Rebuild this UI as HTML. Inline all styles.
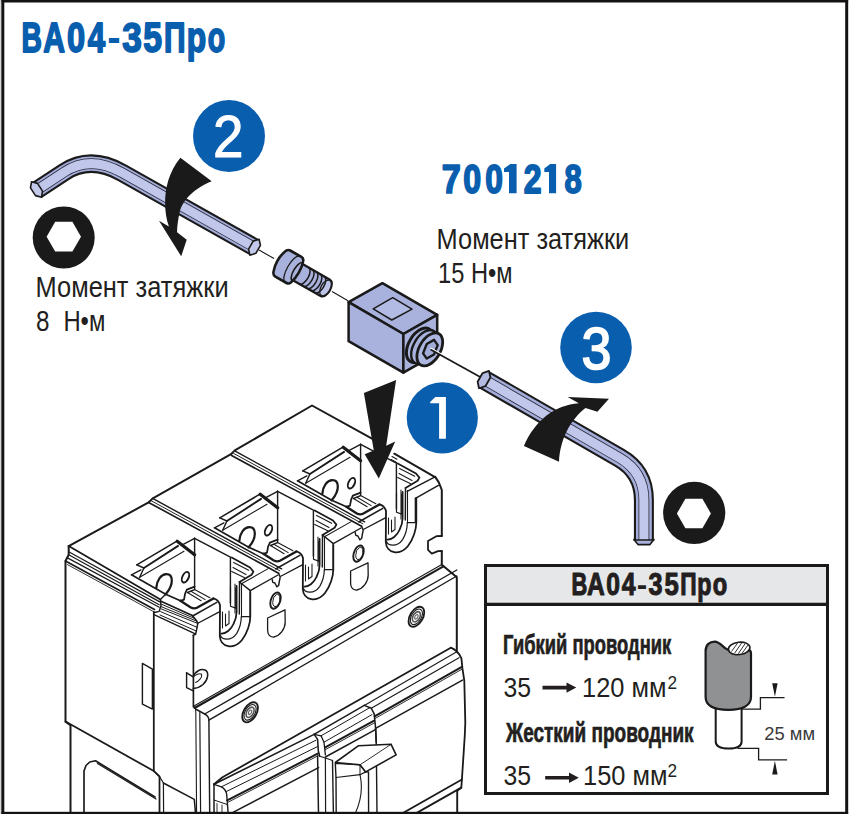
<!DOCTYPE html>
<html lang="ru">
<head>
<meta charset="utf-8">
<title>ВА04-35Про</title>
<style>
html,body{margin:0;padding:0;background:#fff;}
body{width:849px;height:814px;overflow:hidden;font-family:"Liberation Sans",sans-serif;}
svg{display:block;position:absolute;left:0;top:0;}
text{font-family:"Liberation Sans",sans-serif;}
.bl{fill:#0a5eae;font-weight:bold;}
.tx{fill:#231f20;}
.bd{fill:#231f20;font-weight:bold;}
.bs{stroke:#0a5eae;vector-effect:non-scaling-stroke;stroke-linejoin:round;}
.ks{stroke:#231f20;vector-effect:non-scaling-stroke;stroke-linejoin:round;}
</style>
</head>
<body>
<svg width="849" height="814" viewBox="0 0 849 814">
<rect x="0" y="0" width="849" height="814" fill="#fff"/>

<!-- BREAKER -->
<g id="breaker" fill="none" stroke="#1a1a1a" stroke-width="1.3" stroke-linejoin="round" stroke-linecap="round">
<path d="M68.7,546.1 L148.6,502.4 L150.4,500.6 L152.4,498.6 L231.0,454.2 L232.8,452.4 L234.8,450.4 L312.0,405.5 L372.0,438.7" stroke-width="2.0"/>
<path d="M394.3,453.7 L435.5,477.4 L438.8,482.4 L441.8,490.0 L441.8,536.0" stroke-width="2.0"/>
<path d="M441.8,536.0 L436.8,536.1 L428.0,541.1 L428.0,549.8 L431.8,553.6 L438.0,551.1 L441.8,551.0" stroke-width="1.77"/>
<path d="M441.8,551.0 L441.8,564.8 L456.8,577.3 L456.8,652.0" stroke-width="2.0"/>
<path d="M457.2,790.7 L457.2,814.0" stroke-width="1.9"/>
<path d="M68.7,546.1 L68.7,554.8 L65.5,561.0 L65.5,721.6 L70.5,725.3 L70.5,814.0" stroke-width="2.0"/>
<path d="M68.7,546.1 L160.4,599.6" stroke-width="1.77"/>
<path d="M68.7,551.8 L159.8,601.9" stroke-width="1.2"/>
<path d="M68.7,554.8 L159.2,604.8" stroke-width="1.2"/>
<path d="M67.0,557.6 L159.2,607.2" stroke-width="1.2"/>
<path d="M65.5,561.0 L154.5,609.5" stroke-width="1.66"/>
<path d="M67.5,564.6 L152.5,611.0" stroke-width="0.9"/>
<path d="M165.7,594.3 L160.4,599.6 L161.0,605.5 L159.2,611.4 L154.5,612.5" stroke-width="1.43"/>
<path d="M161.0,601.2 L192.3,615.6" stroke-width="1.7"/>
<path d="M161.0,604.0 L194.9,618.6" stroke-width="1.0"/>
<path d="M161.0,606.6 L196.4,621.0" stroke-width="1.0"/>
<path d="M161.0,608.8 L197.4,623.3" stroke-width="1.0"/>
<path d="M160.6,611.6 L197.0,627.3" stroke-width="1.0"/>
<path d="M160.0,615.0 L196.2,631.0" stroke-width="1.0"/>
<path d="M154.0,614.6 L195.3,633.8" stroke-width="1.4"/>
<path d="M192.3,615.6 L196.4,620.4 L197.8,623.3 L196.7,629.2 L195.6,634.4 L193.2,635.3" stroke-width="1.5"/>
<path d="M153.8,611.7 L153.8,771.0" stroke-width="1.77"/>
<path d="M65.5,721.6 L153.8,771.0 L159.5,776.5 L159.5,814.0" stroke-width="1.77"/>
<path d="M142.4,663.4 L152.4,669.2 L152.4,709.1 L142.4,704.1 Z" stroke-width="1.43"/>
<path d="M84.0,814.0 L84.0,771.0 L86.0,765.5 L89.8,762.0 L95.5,760.8 L155.0,797.0" stroke-width="1.66"/>
<path d="M97.5,763.5 L156.0,799.0" stroke-width="1.2"/>
<path d="M163.4,783.0 L194.3,799.4 L195.6,814.0" stroke-width="1.54"/>
<path d="M159.5,776.5 L163.4,783.0 L163.6,814.0" stroke-width="1.2"/>
<path d="M148.6,502.4 L278.6,573.2" stroke-width="1.66"/>
<path d="M150.6,500.4 L279.8,570.8" stroke-width="0.97"/>
<path d="M152.6,498.4 L281.6,568.8" stroke-width="1.43"/>
<path d="M278.6,573.2 L280.2,577.0 L278.6,585.5 L276.8,586.8 L274.9,583.0 L272.8,582.4 L272.2,579.6" stroke-width="1.43"/>
<g transform="matrix(0.871,-0.49,0,1,275.5,600.6)"><ellipse rx="6" ry="7.6" stroke-width="1.9" vector-effect="non-scaling-stroke"/><ellipse cx="1" cy="0.3" rx="4.2" ry="5.8" stroke-width="1.0" vector-effect="non-scaling-stroke"/></g>
<path d="M267.6,618.0 L285.0,609.8 L285.2,622.0 C285.2,629.0 280.0,635.5 274.0,637.0 C269.5,637.5 267.6,634.0 267.6,630.0 Z" stroke-width="1.3"/>
<path d="M231.6,455.4 L361.6,526.2" stroke-width="1.66"/>
<path d="M233.6,453.4 L362.8,523.8" stroke-width="0.97"/>
<path d="M235.6,451.4 L364.6,521.8" stroke-width="1.43"/>
<path d="M361.6,526.2 L363.2,530.0 L361.6,538.5 L359.8,539.8 L357.9,536.0 L355.8,535.4 L355.2,532.6" stroke-width="1.43"/>
<g transform="matrix(0.871,-0.49,0,1,358.5,553.6)"><ellipse rx="6" ry="7.6" stroke-width="1.9" vector-effect="non-scaling-stroke"/><ellipse cx="1" cy="0.3" rx="4.2" ry="5.8" stroke-width="1.0" vector-effect="non-scaling-stroke"/></g>
<path d="M350.6,571.0 L368.0,562.8 L368.2,575.0 C368.2,582.0 363.0,588.5 357.0,590.0 C352.5,590.5 350.6,587.0 350.6,583.0 Z" stroke-width="1.3"/>
<path d="M231.7,557.4 L250.0,567.5 L253.4,571.6 L251.6,574.8 L239.5,582.0" stroke-width="1.77"/>
<path d="M233.6,562.4 L248.7,570.2" stroke-width="1.08"/>
<path d="M233.0,567.6 L246.0,574.6" stroke-width="1.08"/>
<path d="M231.7,571.4 L244.7,577.8" stroke-width="1.08"/>
<path d="M230.4,558.0 L230.4,603.0" stroke-width="1.43"/>
<path d="M235.0,584.0 L235.0,613.0" stroke-width="1.08"/>
<path d="M239.5,582.0 L239.3,614.0" stroke-width="1.43"/>
<path d="M241.5,584.5 L241.5,617.0" stroke-width="1.08"/>
<path d="M239.5,582.0 L250.3,590.6 L250.3,617.0" stroke-width="1.43"/>
<path d="M250.3,590.6 L278.0,575.0" stroke-width="1.43"/>
<path d="M241.0,584.0 L268.2,568.6" stroke-width="1.08"/>
<path d="M314.7,510.4 L333.0,520.5 L336.4,524.6 L334.6,527.8 L322.5,535.0" stroke-width="1.77"/>
<path d="M316.6,515.4 L331.7,523.2" stroke-width="1.08"/>
<path d="M316.0,520.6 L329.0,527.6" stroke-width="1.08"/>
<path d="M314.7,524.4 L327.7,530.8" stroke-width="1.08"/>
<path d="M313.4,511.0 L313.4,556.0" stroke-width="1.43"/>
<path d="M318.0,537.0 L318.0,566.0" stroke-width="1.08"/>
<path d="M322.5,535.0 L322.3,567.0" stroke-width="1.43"/>
<path d="M324.5,537.5 L324.5,570.0" stroke-width="1.08"/>
<path d="M322.5,535.0 L333.3,543.6 L333.3,570.0" stroke-width="1.43"/>
<path d="M333.3,543.6 L361.0,528.0" stroke-width="1.43"/>
<path d="M324.0,537.0 L351.2,521.6" stroke-width="1.08"/>
<path d="M397.7,463.4 L416.0,473.5 L419.4,477.6 L417.6,480.8 L405.5,488.0" stroke-width="1.77"/>
<path d="M399.6,468.4 L414.7,476.2" stroke-width="1.08"/>
<path d="M399.0,473.6 L412.0,480.6" stroke-width="1.08"/>
<path d="M397.7,477.4 L410.7,483.8" stroke-width="1.08"/>
<path d="M396.4,464.0 L396.4,509.0" stroke-width="1.43"/>
<path d="M401.0,490.0 L401.0,519.0" stroke-width="1.08"/>
<path d="M405.5,488.0 L405.3,520.0" stroke-width="1.43"/>
<path d="M407.5,490.5 L407.5,523.0" stroke-width="1.08"/>
<path d="M407.2,491.3 L435.5,476.6" stroke-width="1.43"/>
<path d="M415.4,498.4 L438.4,485.4" stroke-width="1.43"/>
<path d="M415.4,498.4 L415.4,522.0" stroke-width="1.43"/>
<g><path d="M136.8,564.8 L176.9,541.2" stroke-width="1.54"/><path d="M136.8,564.8 L143.9,568.0 L139.7,577.2" stroke-width="1.43"/><path d="M131.5,574.8 L140.9,569.9" stroke-width="1.31"/><path d="M131.5,574.8 L165.7,594.3" stroke-width="1.66"/><path d="M143.9,568.0 L178.1,545.9" stroke-width="1.89"/><path d="M139.7,577.2 L184.0,551.2" stroke-width="1.08"/><path d="M177.2,541.2 L194.6,554.8" stroke-width="3.27"/><path d="M194.6,538.3 L194.6,589.6 L187.5,592.5" stroke-width="1.43"/><path d="M194.6,538.3 L182.8,544.7" stroke-width="1.31"/><path d="M194.6,538.3 L230.4,557.2" stroke-width="1.43"/><path d="M194.6,586.6 L186.9,589.6 L185.1,593.7 L184.0,599.6 L180.4,600.8 L165.7,594.3" stroke-width="1.77"/><path d="M156.3,587.8 C157,580 161,574.5 166.3,574.2 C173,574 174.5,584 165.7,594.3" stroke-width="2.23"/><ellipse cx="185.5" cy="577.2" rx="3.1" ry="5.6" transform="rotate(25 185.5 577.2)" stroke-width="1.9"/><path d="M180.4,600.8 L190.4,607.2 Q194,609.2 196.9,607.8 L213.4,598.4" stroke-width="2.35"/><path d="M187.5,592.5 L201.1,600.8" stroke-width="1.08"/><path d="M191.0,591.3 L205.2,599.6" stroke-width="1.08"/><path d="M194.6,589.6 L209.9,597.8" stroke-width="1.08"/><path d="M213.3,598.3 Q218.5,599.4 220,604.9 L219.8,636" stroke-width="1.8"/><path d="M192.7,616.0 L216.8,602.3" stroke-width="1.5"/><path d="M197.8,623.3 L219.8,611.6" stroke-width="1.3"/><path d="M219.8,636 C220.5,647.5 234,650 242,640 C247.5,633 250.3,623 250.3,616.6 L250.3,592" stroke-width="1.77"/><path d="M220.5,635.5 C222,640 231,641.5 236.6,633.6 C240,628 241.3,621 241.3,616.6 L250.3,616.6" stroke-width="1.2"/><path d="M221,633.6 C226,634 231,629.5 233.5,624 C235.5,620 236.6,616 236.6,612 L236.6,586" stroke-width="1.77"/><path d="M230.5,587 L230.5,606.2 L235.7,608.1 L235.7,588" stroke-width="1.2"/><path d="M222.5,612 L222.5,628 M225.5,614 L225.5,626 L229,623.5 L229,611" stroke-width="1.08"/></g>
<g transform="translate(83.0,-47.0)"><path d="M136.8,564.8 L176.9,541.2" stroke-width="1.54"/><path d="M136.8,564.8 L143.9,568.0 L139.7,577.2" stroke-width="1.43"/><path d="M131.5,574.8 L140.9,569.9" stroke-width="1.31"/><path d="M131.5,574.8 L165.7,594.3" stroke-width="1.66"/><path d="M143.9,568.0 L178.1,545.9" stroke-width="1.89"/><path d="M139.7,577.2 L184.0,551.2" stroke-width="1.08"/><path d="M177.2,541.2 L194.6,554.8" stroke-width="3.27"/><path d="M194.6,538.3 L194.6,589.6 L187.5,592.5" stroke-width="1.43"/><path d="M194.6,538.3 L182.8,544.7" stroke-width="1.31"/><path d="M194.6,538.3 L230.4,557.2" stroke-width="1.43"/><path d="M194.6,586.6 L186.9,589.6 L185.1,593.7 L184.0,599.6 L180.4,600.8 L165.7,594.3" stroke-width="1.77"/><path d="M156.3,587.8 C157,580 161,574.5 166.3,574.2 C173,574 174.5,584 165.7,594.3" stroke-width="2.23"/><ellipse cx="185.5" cy="577.2" rx="3.1" ry="5.6" transform="rotate(25 185.5 577.2)" stroke-width="1.9"/><path d="M180.4,600.8 L190.4,607.2 Q194,609.2 196.9,607.8 L213.4,598.4" stroke-width="2.35"/><path d="M187.5,592.5 L201.1,600.8" stroke-width="1.08"/><path d="M191.0,591.3 L205.2,599.6" stroke-width="1.08"/><path d="M194.6,589.6 L209.9,597.8" stroke-width="1.08"/><path d="M213.3,598.3 Q218.5,599.4 220,604.9 L219.8,636" stroke-width="1.8"/><path d="M192.7,616.0 L216.8,602.3" stroke-width="1.5"/><path d="M197.8,623.3 L219.8,611.6" stroke-width="1.3"/><path d="M219.8,636 C220.5,647.5 234,650 242,640 C247.5,633 250.3,623 250.3,616.6 L250.3,592" stroke-width="1.77"/><path d="M220.5,635.5 C222,640 231,641.5 236.6,633.6 C240,628 241.3,621 241.3,616.6 L250.3,616.6" stroke-width="1.2"/><path d="M221,633.6 C226,634 231,629.5 233.5,624 C235.5,620 236.6,616 236.6,612 L236.6,586" stroke-width="1.77"/><path d="M230.5,587 L230.5,606.2 L235.7,608.1 L235.7,588" stroke-width="1.2"/><path d="M222.5,612 L222.5,628 M225.5,614 L225.5,626 L229,623.5 L229,611" stroke-width="1.08"/></g>
<g transform="translate(166.0,-94.0)"><path d="M136.8,564.8 L176.9,541.2" stroke-width="1.54"/><path d="M136.8,564.8 L143.9,568.0 L139.7,577.2" stroke-width="1.43"/><path d="M131.5,574.8 L140.9,569.9" stroke-width="1.31"/><path d="M131.5,574.8 L165.7,594.3" stroke-width="1.66"/><path d="M143.9,568.0 L178.1,545.9" stroke-width="1.89"/><path d="M139.7,577.2 L184.0,551.2" stroke-width="1.08"/><path d="M177.2,541.2 L194.6,554.8" stroke-width="3.27"/><path d="M194.6,538.3 L194.6,589.6 L187.5,592.5" stroke-width="1.43"/><path d="M194.6,538.3 L182.8,544.7" stroke-width="1.31"/><path d="M194.6,538.3 L230.4,557.2" stroke-width="1.43"/><path d="M194.6,586.6 L186.9,589.6 L185.1,593.7 L184.0,599.6 L180.4,600.8 L165.7,594.3" stroke-width="1.77"/><path d="M156.3,587.8 C157,580 161,574.5 166.3,574.2 C173,574 174.5,584 165.7,594.3" stroke-width="2.23"/><ellipse cx="185.5" cy="577.2" rx="3.1" ry="5.6" transform="rotate(25 185.5 577.2)" stroke-width="1.9"/><path d="M180.4,600.8 L190.4,607.2 Q194,609.2 196.9,607.8 L213.4,598.4" stroke-width="2.35"/><path d="M187.5,592.5 L201.1,600.8" stroke-width="1.08"/><path d="M191.0,591.3 L205.2,599.6" stroke-width="1.08"/><path d="M194.6,589.6 L209.9,597.8" stroke-width="1.08"/><path d="M213.3,598.3 Q218.5,599.4 220,604.9 L219.8,636" stroke-width="1.8"/><path d="M192.7,616.0 L216.8,602.3" stroke-width="1.5"/><path d="M197.8,623.3 L219.8,611.6" stroke-width="1.3"/><path d="M219.8,636 C220.5,647.5 234,650 242,640 C247.5,633 250.3,623 250.3,616.6 L250.3,592" stroke-width="1.77"/><path d="M220.5,635.5 C222,640 231,641.5 236.6,633.6 C240,628 241.3,621 241.3,616.6 L250.3,616.6" stroke-width="1.2"/><path d="M221,633.6 C226,634 231,629.5 233.5,624 C235.5,620 236.6,616 236.6,612 L236.6,586" stroke-width="1.77"/><path d="M230.5,587 L230.5,606.2 L235.7,608.1 L235.7,588" stroke-width="1.2"/><path d="M222.5,612 L222.5,628 M225.5,614 L225.5,626 L229,623.5 L229,611" stroke-width="1.08"/></g>
<path d="M392.0,456.6 L397.0,459.3" stroke-width="1.08"/>
<path d="M391.2,459.5 L396.6,462.4" stroke-width="1.08"/>
<path d="M193.4,635.5 L193.4,707.0" stroke-width="1.66"/>
<path d="M186.6,672.8 L186.6,687.6 L193.2,690.9" stroke-width="1.43"/>
<path d="M186.6,672.8 L193.2,676.9 C195,671 201,668.6 205,670 C209.5,672 208,680 203,684.5 C199.5,687.5 196,688.4 193.2,688.6" stroke-width="1.54"/>
<path d="M193.2,676.9 C195.5,674.6 199.5,673 201.6,674.3 C202.5,677.5 198.5,681.5 195.6,682.4" stroke-width="1.08"/>
<path d="M194.0,706.0 L441.8,564.6" stroke-width="1.1"/>
<path d="M194.6,708.0 L443.4,566.4" stroke-width="2.1"/>
<path d="M204.7,714.0 L456.8,570.0" stroke-width="1.43"/>
<path d="M208.9,720.2 L456.8,576.0" stroke-width="1.43"/>
<path d="M195.5,709 L204.7,714 Q208.6,716 208.9,719.8 L209.7,814" stroke-width="1.43"/>
<path d="M199.8,712.5 L200.6,814.0" stroke-width="1.2"/>
<path d="M194.0,706.4 L195.5,709.0 L195.8,712.0 L196.6,814.0" stroke-width="1.08"/>
<g transform="matrix(0.871,-0.49,0,1,250.1,712.3)"><circle r="9" stroke-width="1.8" vector-effect="non-scaling-stroke"/><circle r="7" stroke-width="1.1" vector-effect="non-scaling-stroke"/><circle r="4.6" stroke-width="1.6" stroke="#555" vector-effect="non-scaling-stroke"/><circle r="2" stroke-width="1.2" stroke="#666" vector-effect="non-scaling-stroke"/></g>
<g transform="matrix(0.871,-0.49,0,1,416.4,616.8)"><circle r="9" stroke-width="1.8" vector-effect="non-scaling-stroke"/><circle r="7" stroke-width="1.1" vector-effect="non-scaling-stroke"/><circle r="4.6" stroke-width="1.6" stroke="#555" vector-effect="non-scaling-stroke"/><circle r="2" stroke-width="1.2" stroke="#666" vector-effect="non-scaling-stroke"/></g>
<path d="M214.0,784.3 L222.5,777.3 L450.8,647.7" stroke-width="1.8"/>
<path d="M450.8,647.7 Q458,650.5 461.4,658.3 L462.5,668.9 L464.3,680.7 L465.3,722.8 L464.8,735 L463.6,753.6 L461.9,779.5 L461.3,787.7 L457.2,790.7" stroke-width="1.8"/>
<path d="M364.3,705.4 L455.5,652.4" stroke-width="1.1"/>
<path d="M371.3,708.3 L459.0,657.7" stroke-width="1.1"/>
<path d="M374.6,716.3 L461.4,667.1" stroke-width="2.0"/>
<path d="M375.0,718.5 L462.5,668.9" stroke-width="0.9"/>
<path d="M375.6,728.4 L462.5,680.1" stroke-width="1.5"/>
<path d="M364.3,705.4 L371.3,708.3 L374.2,713.9 L375.6,728.1 L376.3,742.2" stroke-width="1.5"/>
<path d="M314.1,734.4 L364.3,705.4" stroke-width="1.5"/>
<path d="M321.1,735.8 L369.9,707.6" stroke-width="1.0"/>
<path d="M324.0,742.2 L372.0,714.6" stroke-width="1.0"/>
<path d="M325.2,747.4 L374.2,720.6" stroke-width="2.0"/>
<path d="M325.4,749.6 L374.6,722.8" stroke-width="0.9"/>
<path d="M325.4,757.0 L375.4,729.6" stroke-width="1.5"/>
<path d="M314.1,734.4 L317.6,739.4 L318.3,750.7 L319.7,756.3" stroke-width="1.5"/>
<path d="M314.1,734.4 L321.1,735.8 L324.0,742.2 L325.4,754.9" stroke-width="1.3"/>
<path d="M214.0,784.3 L314.1,734.4" stroke-width="1.6"/>
<path d="M221.4,786.8 L316.0,740.2" stroke-width="1.0"/>
<path d="M226.4,791.5 L317.9,746.4" stroke-width="1.0"/>
<path d="M227.2,800.4 L318.2,753.4" stroke-width="2.0"/>
<path d="M227.4,802.6 L318.4,755.6" stroke-width="0.9"/>
<path d="M233.0,812.3 L318.6,767.6" stroke-width="1.5"/>
<path d="M214,784.3 L221.4,786.8 Q226,789.5 226.6,794 L227.2,800.8 L228.2,814" stroke-width="1.4"/>
<path d="M214.0,784.3 L214.0,814.0" stroke-width="1.5"/>
<path d="M214.0,800.0 L227.2,804.5" stroke-width="1.0"/>
<path d="M217.0,803.5 L217.0,814.0" stroke-width="0.9"/>
<path d="M222.0,805.0 L222.0,814.0" stroke-width="0.9"/>
<path d="M317.6,756.0 L318.5,814.0" stroke-width="1.5"/>
<path d="M325.4,758.0 L325.6,814.0" stroke-width="1.2"/>
<path d="M332.5,760.5 L333.4,814.0" stroke-width="1.4"/>
<path d="M319.7,756.3 L325.4,758.0 L332.5,760.5" stroke-width="1.1"/>
<path d="M375.6,728.1 L376.3,745.0" stroke-width="1.5"/>
<path d="M335.3,763.4 L336,777.5 L336.2,814 L368.6,814 L368.5,772 L365.7,771.9 L360,764.8 Z" stroke-width="1.4" fill="#fff"/>
<path d="M376.5,766 L377,814" stroke-width="1.4"/>
<path d="M335.3,762.5 L358.6,745.7 L391.1,744.3 L396.1,754.9 L365.7,771.9 L360,764.8 Z" stroke-width="1.6" fill="#fff"/>
<path d="M360.0,764.8 L360.0,774.7" stroke-width="1.0"/>
<path d="M336.0,777.5 L360.0,774.7 L365.7,771.9" stroke-width="1.2"/>
<path d="M360.0,764.8 L391.1,744.3" stroke-width="0.9"/>
<path d="M360,774.7 C363,788 361.5,800 355,814" stroke-width="1.1"/>
<path d="M402.0,813.6 L461.9,779.5" stroke-width="1.7"/>
<path d="M415.5,813.6 L461.3,787.7" stroke-width="1.9"/>
</g>

<!-- TOOLS -->
<g id="tools">
<!-- axis lines -->
<g stroke="#1a1a1a" stroke-width="1.1" fill="none">
<line x1="259" y1="250" x2="274" y2="258.6"/>
<line x1="332" y1="291.6" x2="348" y2="300.8"/>
</g>

<!-- hex key 2 (left) -->
<g fill="none" stroke-linejoin="round">
<path d="M37,190 L64,172.2 Q90.3,154.9 122,172.7 L254,247" stroke="#1a1a1a" stroke-width="18.4"/>
<path d="M37,190 L64,172.2 Q90.3,154.9 122,172.7 L254,247" stroke="#a5aeda" stroke-width="14.2"/>
<path d="M37,190 L64,172.2 Q90.3,154.9 122,172.7 L254,247" stroke="#2a2a3a" stroke-width="10.6"/>
<path d="M37,190 L64,172.2 Q90.3,154.9 122,172.7 L254,247" stroke="#c0c7ea" stroke-width="9"/>
</g>
<g transform="translate(36.5,189.5) rotate(-33)" fill="#c3c9ea" stroke="#1a1a1a" stroke-width="1.6" stroke-linejoin="round">
<polygon points="0,9.2 4.2,4.6 4.2,-4.6 0,-9.2 -4.2,-4.6 -4.2,4.6"/>
</g>
<g transform="translate(254.5,247.2) rotate(30)" fill="#c3c9ea" stroke="#1a1a1a" stroke-width="1.6" stroke-linejoin="round">
<polygon points="0,9.2 4.2,4.6 4.2,-4.6 0,-9.2 -4.2,-4.6 -4.2,4.6"/>
</g>

<!-- arrow 2 -->
<path d="M180.4,157.8 L211.7,181.2 C195,188 182,200 179.6,212.6 C178,220 177,227 177.1,232.3 L186.7,239.8 L181.2,256.3 L159,220.8 L168.9,226.6 C163,210 162,180 180.4,157.8 Z" fill="#1a1a1a"/>

<!-- socket icon left -->
<circle cx="63.7" cy="237.5" r="31" fill="#1a1a1a"/>
<polygon points="46.6,236.7 55.2,221.8 72.4,221.8 81,236.7 72.4,251.6 55.2,251.6" fill="#fff"/>

<!-- screw -->
<g transform="translate(288.8,267) rotate(29.7)" stroke="#1a1a1a" stroke-width="2.3" stroke-linejoin="round" fill="#a9b2dc">
<path d="M8,-9.4 L42,-9.4 A5.2,9.4 0 0 1 42,9.4 L8,9.4 Z"/>
<ellipse cx="42.3" cy="0" rx="4.6" ry="8.6" fill="#bcc3e8" stroke-width="1.3"/>
<g fill="none" stroke-width="1.5">
<path d="M17.5,-9.4 A4.6,9.4 0 0 1 17.5,9.4"/>
<path d="M22,-9.4 A4.6,9.4 0 0 1 22,9.4"/>
<path d="M26.5,-9.4 A4.6,9.4 0 0 1 26.5,9.4"/>
<path d="M31,-9.4 A4.6,9.4 0 0 1 31,9.4"/>
<path d="M35.5,-9.4 A4.6,9.4 0 0 1 35.5,9.4"/>
</g>
<path d="M-7,-15 L6,-15 Q8.5,-15 9.5,-12.5 Q11.5,-7 11.5,0 Q11.5,7 9.5,12.5 Q8.5,15 6,15 L-7,15 Q-10,15 -11.2,11 Q-13,6 -13,0 Q-13,-6 -11.2,-11 Q-10,-15 -7,-15 Z" stroke-width="2.6"/>
<path d="M4,-14.6 A5,14.6 0 0 0 4,14.6" fill="none" stroke-width="1.3"/>
<path d="M9.5,-10 A3.6,10 0 0 0 9.5,10" fill="none" stroke-width="1.6"/>
</g>

<!-- block -->
<g stroke="#1a1a1a" stroke-width="2.5" stroke-linejoin="round" fill="#a8b2dd">
<polygon points="348.6,302.2 382.4,283.2 437.2,314.9 403.4,334"/>
<polygon points="348.6,302.2 403.4,334 403.4,372.6 348.6,341.2"/>
<polygon points="403.4,334 437.2,314.9 437.2,353.3 403.4,372.6"/>
<polygon points="373.2,308.8 392.7,297.7 412,309.2 391.8,320" stroke-width="1.5" fill="#b2bbe3"/>
</g>
<!-- block screw -->
<g stroke="#1a1a1a" fill="#a8b2dd">
<g transform="matrix(0.871,-0.492,0,1,419.8,345.2)"><circle r="15.4" stroke-width="3" vector-effect="non-scaling-stroke"/></g>
<g transform="matrix(0.871,-0.492,0,1,424.4,347)"><circle r="15.2" stroke-width="2.4" vector-effect="non-scaling-stroke"/></g>
<g transform="matrix(0.871,-0.492,0,1,429.8,349.4)"><circle r="14.8" stroke-width="2.8" vector-effect="non-scaling-stroke" fill="#adb6e0"/></g>
<g transform="matrix(0.871,-0.492,0,1,430.4,349.2)"><polygon points="8.4,0 4.2,7.3 -4.2,7.3 -8.4,0 -4.2,-7.3 4.2,-7.3" stroke-width="2.4" vector-effect="non-scaling-stroke" fill="#a2acd9" stroke-linejoin="round"/></g>
</g>
<line x1="430.6" y1="348.2" x2="482" y2="376.9" stroke="#fff" stroke-width="1.4"/>
<line x1="430.6" y1="349.4" x2="482" y2="378.1" stroke="#1a1a1a" stroke-width="1.7"/>

<!-- hex key 3 (right) -->
<g fill="none" stroke-linejoin="round">
<path d="M483.5,379.3 L619.7,457.9 Q643.9,471.9 643.9,499.9 L643.9,541" stroke="#1a1a1a" stroke-width="20"/>
<path d="M483.5,379.3 L619.7,457.9 Q643.9,471.9 643.9,499.9 L643.9,541" stroke="#a5aeda" stroke-width="15.8"/>
<path d="M483.5,379.3 L619.7,457.9 Q643.9,471.9 643.9,499.9 L643.9,541" stroke="#2a2a3a" stroke-width="10.8"/>
<path d="M483.5,379.3 L619.7,457.9 Q643.9,471.9 643.9,499.9 L643.9,541" stroke="#c0c7ea" stroke-width="9.2"/>
</g>
<polygon points="633.9,540 633.9,539.5 638,544.6 650,544.6 653.9,539.5 653.9,540" fill="#a9b2dc" stroke="#1a1a1a" stroke-width="1.6" stroke-linejoin="round"/>
<g transform="translate(484,379.6) rotate(30)" fill="#b4bbe3" stroke="#1a1a1a" stroke-width="1.8" stroke-linejoin="round">
<polygon points="0,10 -4.5,5 -4.5,-5 0,-10 4.5,-5 4.5,5"/>
</g>

<!-- arrow 3 -->
<path d="M567.7,397 L609,398.7 L597.4,411.8 L585.5,408 C570,420 560,440 559,461.8 L523.9,446 C535,420 555,405 578.8,403.2 Z" fill="#1a1a1a"/>

<!-- socket icon right -->
<circle cx="694.2" cy="512.9" r="31.1" fill="#1a1a1a"/>
<polygon points="676.9,513.5 685.4,498.8 702.4,498.8 710.9,513.5 702.4,528.2 685.4,528.2" fill="#fff"/>

<!-- arrow 1 -->
<polygon points="396.1,380.1 363.9,393 373.8,450.5 364.7,454.3 378.8,478.4 395.2,441.6 386.2,445.8" fill="#1a1a1a"/>
</g>

<!-- numbered circles -->
<g id="nums">
<circle cx="229" cy="136.1" r="36" fill="#0a5eae"/>
<circle cx="596" cy="347.5" r="35.8" fill="#0a5eae"/>
<circle cx="442.3" cy="417.8" r="35.6" fill="#0a5eae"/>
<text x="213" y="156.7" font-size="59.5" fill="#fff" stroke="#fff" stroke-width="1" textLength="30.5" lengthAdjust="spacingAndGlyphs">2</text>
<text x="581.4" y="369" font-size="59.5" fill="#fff" stroke="#fff" stroke-width="1.7" textLength="30" lengthAdjust="spacingAndGlyphs">3</text>
<path d="M430.2,403.2 L430.2,402 L435.3,396.9 L445.9,396.9 L445.9,438.7 L439.1,438.7 L439.1,403.2 Z" fill="#fff"/>
</g>

<!-- TEXT -->
<g id="texts">
<g id="t1">
<text class="bl bs" transform="translate(21.61,51.90) scale(0.6737,1)" font-size="41.86" stroke-width="1.60">В</text>
<text class="bl bs" transform="translate(43.35,51.90) scale(0.7193,1)" font-size="41.86" stroke-width="1.60">А</text>
<text class="bl bs" transform="translate(66.91,51.90) scale(0.7786,1)" font-size="41.86" stroke-width="1.60">0</text>
<text class="bl bs" transform="translate(87.73,51.90) scale(0.7492,1)" font-size="41.86" stroke-width="1.60">4</text>
<text class="bl bs" transform="translate(107.33,51.90) scale(0.9597,1)" font-size="41.86" stroke-width="0.00">-</text>
<text class="bl bs" transform="translate(122.19,51.90) scale(0.8410,1)" font-size="41.86" stroke-width="1.60">3</text>
<text class="bl bs" transform="translate(143.36,51.90) scale(0.8066,1)" font-size="41.86" stroke-width="1.60">5</text>
<text class="bl bs" transform="translate(163.90,51.90) scale(0.7147,1)" font-size="41.86" stroke-width="1.60">П</text>
<text class="bl bs" transform="translate(186.81,51.90) scale(0.7585,1)" font-size="41.86" stroke-width="1.60">р</text>
<text class="bl bs" transform="translate(207.69,51.90) scale(0.6816,1)" font-size="41.86" stroke-width="1.60">о</text>
</g>
<g id="t2">
<text class="bl bs" transform="translate(441.63,192.50) scale(0.8553,1)" font-size="40.12" stroke-width="1.60">7</text>
<text class="bl bs" transform="translate(463.13,192.50) scale(0.8019,1)" font-size="40.12" stroke-width="1.60">0</text>
<text class="bl bs" transform="translate(485.24,192.50) scale(0.7914,1)" font-size="40.12" stroke-width="1.60">0</text>
<path d="M504.0,172.1 L504.0,168.5 L510.3,164.1 L516.6,164.1 L516.6,193.3 L509.0,193.3 L509.0,172.1 Z" fill="#0a5eae"/>
<text class="bl bs" transform="translate(523.69,192.50) scale(0.7973,1)" font-size="40.12" stroke-width="1.60">2</text>
<path d="M544.3,172.1 L544.3,168.5 L550.2,164.1 L556.1,164.1 L556.1,193.3 L549.0,193.3 L549.0,172.1 Z" fill="#0a5eae"/>
<text class="bl bs" transform="translate(564.42,192.50) scale(0.7726,1)" font-size="40.12" stroke-width="1.60">8</text>
</g>
<text class="tx" x="35.6" y="297.3" font-size="28.6" textLength="193" lengthAdjust="spacingAndGlyphs">Момент затяжки</text>
<text class="tx" x="36" y="330.7" font-size="28.6" textLength="13.5" lengthAdjust="spacingAndGlyphs">8</text>
<text class="tx" x="63.4" y="330.7" font-size="28.6" textLength="42" lengthAdjust="spacingAndGlyphs">Н•м</text>
<text class="tx" x="436.6" y="249" font-size="28.6" textLength="192.6" lengthAdjust="spacingAndGlyphs">Момент затяжки</text>
<text class="tx" x="438" y="283.3" font-size="28.6" textLength="74.6" lengthAdjust="spacingAndGlyphs">15 Н•м</text>
</g>

<!-- INFO BOX -->
<g id="info">
<rect x="485.5" y="565.5" width="342" height="228" fill="#fff"/>
<rect x="485.5" y="565.5" width="342" height="39" fill="#e6e7e8"/>
<rect x="485.5" y="565.5" width="342" height="228" fill="none" stroke="#1a1a1a" stroke-width="3"/>
<line x1="485.5" y1="604.3" x2="827.5" y2="604.3" stroke="#1a1a1a" stroke-width="3.2"/>
<g id="t3">
<text class="bd ks" transform="translate(571.44,595.20) scale(0.6789,1)" font-size="32.12" stroke-width="1.00">В</text>
<text class="bd ks" transform="translate(587.09,595.20) scale(0.7656,1)" font-size="32.12" stroke-width="1.00">А</text>
<text class="bd ks" transform="translate(606.33,595.20) scale(0.7659,1)" font-size="32.12" stroke-width="1.00">0</text>
<text class="bd ks" transform="translate(621.82,595.20) scale(0.7730,1)" font-size="32.12" stroke-width="1.00">4</text>
<text class="bd ks" transform="translate(636.87,595.20) scale(0.9809,1)" font-size="32.12" stroke-width="0.00">-</text>
<text class="bd ks" transform="translate(648.52,595.20) scale(0.7829,1)" font-size="32.12" stroke-width="1.00">3</text>
<text class="bd ks" transform="translate(664.51,595.20) scale(0.8009,1)" font-size="32.12" stroke-width="1.00">5</text>
<text class="bd ks" transform="translate(680.18,595.20) scale(0.7078,1)" font-size="32.12" stroke-width="1.00">П</text>
<text class="bd ks" transform="translate(697.17,595.20) scale(0.7228,1)" font-size="32.12" stroke-width="1.00">р</text>
<text class="bd ks" transform="translate(712.78,595.20) scale(0.7363,1)" font-size="32.12" stroke-width="1.00">о</text>
</g>
<text class="bd" stroke="#231f20" stroke-width="0.7" x="503" y="654.2" font-size="28" textLength="168.2" lengthAdjust="spacingAndGlyphs">Гибкий проводник</text>
<text class="bd" stroke="#231f20" stroke-width="0.7" x="506" y="742.4" font-size="28" textLength="187.6" lengthAdjust="spacingAndGlyphs">Жесткий проводник</text>
<text class="tx" x="503.5" y="697.3" font-size="28.2" textLength="27.6" lengthAdjust="spacingAndGlyphs">35</text>
<text class="tx" x="582" y="697.3" font-size="28.2" textLength="84.5" lengthAdjust="spacingAndGlyphs">120 мм</text>
<text class="tx" x="667.5" y="688.8" font-size="18.5" textLength="9.6" lengthAdjust="spacingAndGlyphs">2</text>
<path d="M542.5,685.8 H566.5 V682.4 L576.3,687.6 L566.5,692.8 V689.4 H542.5 Z" fill="#231f20"/>
<text class="tx" x="503.5" y="785.4" font-size="28.2" textLength="27.6" lengthAdjust="spacingAndGlyphs">35</text>
<text class="tx" x="583" y="785.4" font-size="28.2" textLength="84.5" lengthAdjust="spacingAndGlyphs">150 мм</text>
<text class="tx" x="667.5" y="776.9" font-size="18.5" textLength="9.6" lengthAdjust="spacingAndGlyphs">2</text>
<path d="M545.2,776 H569 V772.6 L578.8,777.8 L569,783 V779.6 H545.2 Z" fill="#231f20"/>
<!-- cable -->
<path d="M715.7,700 L715.7,741.5 C715.7,746.2 721,748.6 728.7,748.6 C736.4,748.6 741.6,746.2 741.6,741.5 L741.6,700 Z" fill="#fff" stroke="#1a1a1a" stroke-width="2"/>
<path d="M705.6,651 C705.6,644.5 710,641.6 714.6,641.6 C721,641.6 723.5,649.6 730,650.3 L749,650.3 Q751,650.3 751,653.5 L751,697 C751,704.5 744,709.8 728.4,709.8 C712.5,709.8 705.6,704.5 705.6,697 Z" fill="#8f9193" stroke="#1a1a1a" stroke-width="2.2" stroke-linejoin="round"/>
<ellipse cx="739.2" cy="648.4" rx="10.8" ry="6.2" fill="#fff" stroke="#1a1a1a" stroke-width="1.6" transform="rotate(-7 739.2 648.4)"/>
<g stroke="#1a1a1a" stroke-width="0.9">
<line x1="731.5" y1="651.5" x2="737.5" y2="643.2"/><line x1="734.6" y1="653.2" x2="741.6" y2="643"/><line x1="738.2" y1="653.8" x2="745.2" y2="643.6"/><line x1="742" y1="653.4" x2="748" y2="645"/>
</g>
<g fill="none" stroke="#1a1a1a" stroke-width="1.3">
<path d="M741.7,709.2 H760.4 V697.6 H784.5"/>
<path d="M737.5,748.3 H758.6 V759.8 H787.1"/>
</g>
<polygon points="774.9,696.8 772.2,683.3 777.6,683.3" fill="#1a1a1a"/>
<polygon points="774.9,760.8 772.2,774.5 777.6,774.5" fill="#1a1a1a"/>
<text x="764.3" y="739.6" font-size="18.8" fill="#3a3a3c" textLength="50.7" lengthAdjust="spacingAndGlyphs">25 мм</text>
</g>

<!-- outer frame -->
<g id="frame" fill="#141213">
<rect x="0" y="0" width="849" height="2.5"/>
<rect x="1.2" y="0" width="3.1" height="814"/>
<rect x="845.2" y="0" width="2.9" height="814"/>
<rect x="0" y="811.8" width="849" height="2.2"/>
<rect x="0" y="0" width="1.2" height="814" fill="#d8d8d8"/>
<rect x="848.1" y="0" width="0.9" height="814" fill="#cfcfcf"/>
</g>
</svg>
</body>
</html>
